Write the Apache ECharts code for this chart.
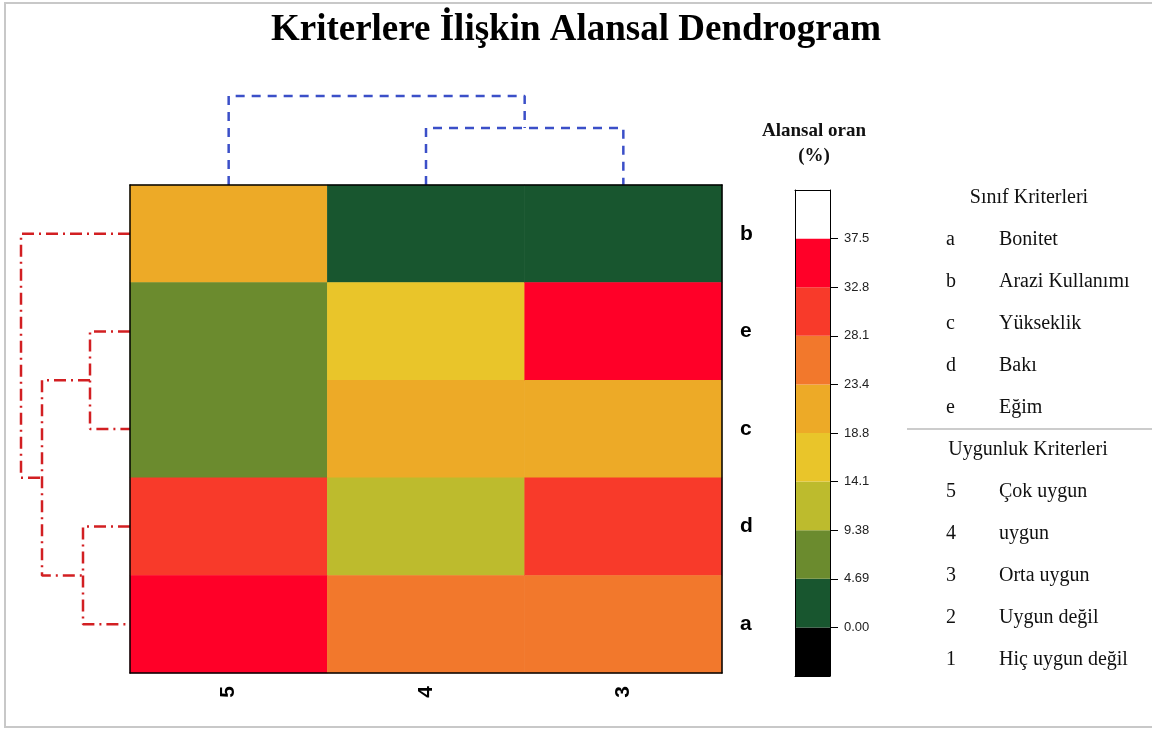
<!DOCTYPE html>
<html>
<head>
<meta charset="utf-8">
<script src="https://cdn.jsdelivr.net/npm/echarts@6/dist/echarts.min.js"></script>
<style>
html,body{margin:0;padding:0;background:#fff;}
#c{width:1152px;height:729px;}
</style>
</head>
<body>
<div id="c"></div>
<script>
// ---------- DATA ----------
const columns = ['5', '4', '3'];
const rows = ['b', 'e', 'c', 'd', 'a'];          // top to bottom
// values per column, in row order b, e, c, d, a (Alansal oran %)
const col5 = [21, 7, 7, 30, 35];
const col4 = [2, 16, 21, 12, 25];
const col3 = [2, 35, 21, 30, 25];

const cbStep = 4.6875;
const cbTickLabels = ['0.00', '4.69', '9.38', '14.1', '18.8', '23.4', '28.1', '32.8', '37.5'];
// colour classes, bottom (below 0) to top (above 37.5)
const cbColors = ['#000000', '#18562F', '#6B8B2E', '#BDBB2D', '#E9C52A', '#EDAA27', '#F2782C', '#F83A2A', '#FF0028', '#FFFFFF'];

// dendrogram over columns: x = column position (centres 0.5,1.5,2.5), y = height
const topBranches = [
  [[1.5, 0], [1.5, 57], [2.5, 57], [2.5, 0]],
  [[0.5, 0], [0.5, 89], [2.0, 89], [2.0, 57]]
];
// dendrogram beside rows: x = distance, y = row position (centres 0.5..4.5)
const leftBranches = [
  [[0, 1.5], [40, 1.5], [40, 2.5], [0, 2.5]],
  [[0, 3.5], [47, 3.5], [47, 4.5], [0, 4.5]],
  [[40, 2], [88, 2], [88, 4], [47, 4]],
  [[0, 0.5], [109, 0.5], [109, 3], [88, 3]]
];

const classTitle = 'Sınıf Kriterleri';
const classCodes = ['a', 'b', 'c', 'd', 'e'];
const classNames = ['Bonitet', 'Arazi Kullanımı', 'Yükseklik', 'Bakı', 'Eğim'];
const suitTitle = 'Uygunluk Kriterleri';
const suitCodes = ['5', '4', '3', '2', '1'];
const suitNames = ['Çok uygun', 'uygun', 'Orta uygun', 'Uygun değil', 'Hiç uygun değil'];

// ---------- BUILD ----------
const heatData = [];
[col5, col4, col3].forEach((col, ci) => {
  col.forEach((v, ri) => heatData.push([ci, ri, v]));
});

const pieces = [];
for (let i = 0; i < cbColors.length; i++) {
  const p = { color: cbColors[i] };
  if (i > 0) p.gte = (i - 1) * cbStep;
  if (i < cbColors.length - 1) p.lt = i * cbStep;
  pieces.push(p);
}
const cbData = cbColors.map((c, i) => [0, (i - 1) * cbStep, i * cbStep, i]);
const cbCustom = cbTickLabels.map((t, i) => i * cbStep);

const HX = 130, HY = 185, HW = 592, HH = 488;
const serif = "'Liberation Serif', 'Times New Roman', serif";
const sans = "'Liberation Sans', Arial, sans-serif";

const blackLine = { show: true, onZero: false, lineStyle: { color: '#000', width: 1.5 } };
const thinLine = { show: true, onZero: false, lineStyle: { color: '#000', width: 1 } };
const hiddenCat = (pos, grid, data, line) => ({
  type: 'category', gridIndex: grid, position: pos, data: data, z: 10,
  axisLine: line || blackLine, axisTick: { show: false }, axisLabel: { show: false }, splitLine: { show: false }
});

const series = [];
series.push({
  type: 'heatmap', xAxisIndex: 0, yAxisIndex: 0, data: heatData,
  itemStyle: { borderWidth: 0 }, emphasis: { disabled: true }
});
topBranches.forEach(b => series.push({
  type: 'line', xAxisIndex: 2, yAxisIndex: 2, data: b, showSymbol: false, silent: true,
  lineStyle: { color: '#3B4FC8', width: 2.5, type: [9, 7] }
}));
leftBranches.forEach(b => series.push({
  type: 'line', xAxisIndex: 3, yAxisIndex: 3, data: b, showSymbol: false, silent: true,
  lineStyle: { color: '#D21F22', width: 2.5, type: [12, 5, 2, 5] }
}));
series.push({
  type: 'custom', xAxisIndex: 4, yAxisIndex: 4, data: cbData, silent: true,
  renderItem: function (params, api) {
    const lo = api.coord([api.value(0), api.value(1)]);
    const hi = api.coord([api.value(0), api.value(2)]);
    const w = api.size([1, 0])[0];
    return {
      type: 'rect',
      shape: { x: lo[0] - w / 2, y: hi[1], width: w, height: lo[1] - hi[1] },
      style: { fill: cbColors[api.value(3)] }
    };
  }
});

const LF = '20px ' + serif;
const graphic = [
  { type: 'rect', shape: { x: 5, y: 3, width: 1160, height: 724 }, style: { fill: 'none', stroke: '#C8C8C8', lineWidth: 2 }, silent: true },
  { type: 'text', x: 814, y: 131, style: { text: 'Alansal oran', font: 'bold 19px ' + serif, fill: '#111', align: 'center', verticalAlign: 'middle' } },
  { type: 'text', x: 814, y: 156, style: { text: '(%)', font: 'bold 19px ' + serif, fill: '#111', align: 'center', verticalAlign: 'middle' } },
  { type: 'text', x: 1029, y: 198, style: { text: classTitle, font: LF, fill: '#111', align: 'center', verticalAlign: 'middle' } },
  { type: 'text', x: 1028, y: 450, style: { text: suitTitle, font: LF, fill: '#111', align: 'center', verticalAlign: 'middle' } },
  { type: 'line', shape: { x1: 907, y1: 429, x2: 1152, y2: 429 }, style: { stroke: '#9A9A9A', lineWidth: 1.2 } }
];
classCodes.forEach((c, i) => {
  graphic.push({ type: 'text', x: 946, y: 240 + i * 42, style: { text: c, font: LF, fill: '#111', verticalAlign: 'middle' } });
  graphic.push({ type: 'text', x: 999, y: 240 + i * 42, style: { text: classNames[i], font: LF, fill: '#111', verticalAlign: 'middle' } });
});
suitCodes.forEach((c, i) => {
  graphic.push({ type: 'text', x: 946, y: 492 + i * 42, style: { text: c, font: LF, fill: '#111', verticalAlign: 'middle' } });
  graphic.push({ type: 'text', x: 999, y: 492 + i * 42, style: { text: suitNames[i], font: LF, fill: '#111', verticalAlign: 'middle' } });
});

const option = {
  backgroundColor: '#fff',
  animation: false,
  title: {
    text: 'Kriterlere İlişkin Alansal Dendrogram', left: 'center', top: 7,
    textStyle: { fontFamily: serif, fontWeight: 'bold', fontSize: 37, color: '#000' }
  },
  grid: [
    { left: HX, top: HY, width: HW, height: HH },
    { left: HX, top: 85, width: HW, height: 100 },
    { left: 10, top: HY, width: 120, height: HH },
    { left: 795, top: 190, width: 35, height: 486 }
  ],
  xAxis: [
    { type: 'category', gridIndex: 0, data: columns, position: 'bottom', z: 10,
      axisLine: blackLine, axisTick: { show: false }, splitLine: { show: false },
      axisLabel: { rotate: 90, margin: 13, fontFamily: sans, fontWeight: 'bold', fontSize: 21, color: '#000' } },
    hiddenCat('top', 0, columns),
    { type: 'value', gridIndex: 1, min: 0, max: 3, show: false },
    { type: 'value', gridIndex: 2, min: 0, max: 120, inverse: true, show: false },
    hiddenCat('bottom', 3, ['cb'], thinLine),
    hiddenCat('top', 3, ['cb'], thinLine)
  ],
  yAxis: [
    { type: 'category', gridIndex: 0, data: rows, inverse: true, position: 'right', z: 10,
      axisLine: blackLine, axisTick: { show: false }, splitLine: { show: false },
      axisLabel: { margin: 18, fontFamily: sans, fontWeight: 'bold', fontSize: 21, color: '#000' } },
    Object.assign(hiddenCat('left', 0, rows), { inverse: true }),
    { type: 'value', gridIndex: 1, min: 0, max: 100, show: false },
    { type: 'value', gridIndex: 2, min: 0, max: 5, inverse: true, show: false },
    { type: 'value', gridIndex: 3, position: 'right', min: -cbStep, max: 9 * cbStep, z: 10,
      axisLine: thinLine,
      axisTick: { show: true, length: 8, customValues: cbCustom, lineStyle: { color: '#000', width: 1 } },
      splitLine: { show: false },
      axisLabel: { margin: 14, customValues: cbCustom, fontFamily: sans, fontSize: 13, color: '#222',
        formatter: function (v) { const i = Math.round(v / cbStep); return cbTickLabels[i] !== undefined ? cbTickLabels[i] : ''; } } },
    { type: 'value', gridIndex: 3, position: 'left', min: -cbStep, max: 9 * cbStep, z: 10,
      axisLine: thinLine, axisTick: { show: false }, axisLabel: { show: false }, splitLine: { show: false } }
  ],
  visualMap: { type: 'piecewise', show: false, seriesIndex: 0, pieces: pieces },
  graphic: graphic,
  series: series
};

const chart = echarts.init(document.getElementById('c'), null, { renderer: 'canvas' });
chart.setOption(option);
</script>
</body>
</html>
